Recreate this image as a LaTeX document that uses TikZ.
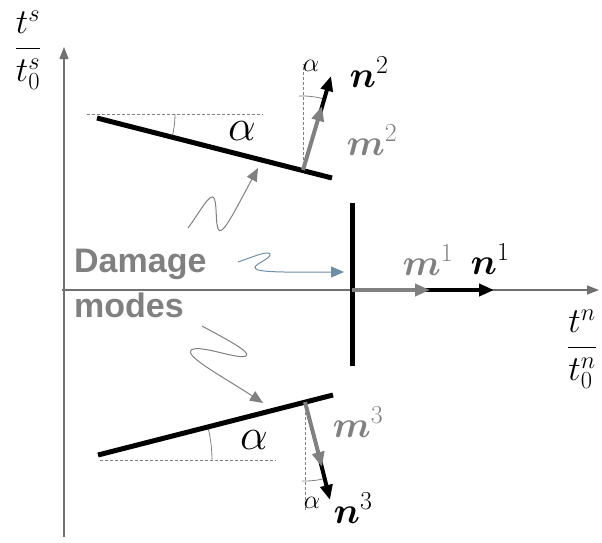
\RequirePackage{fix-cm}
\documentclass[tikz,border=0pt]{standalone}
\usepackage{amsmath,bm}
\usepackage{fontspec}
\setsansfont{Liberation Sans}
\usetikzlibrary{arrows.meta}
\definecolor{axisgray}{RGB}{112,112,112}
\definecolor{midgray}{RGB}{128,128,128}
\definecolor{squigblue}{RGB}{108,142,168}
\begin{document}
\begin{tikzpicture}[x=1pt,y=-1pt,
  axis/.style={axisgray, line width=1.4pt, -{Triangle[length=12pt,width=9pt]}},
  crack/.style={black, line width=5pt},
  mvec/.style={midgray, line width=4pt, -{Triangle[length=15pt,width=12pt]}},
  nvec/.style={black, line width=4pt, -{Triangle[length=15pt,width=12pt]}},
  refdash/.style={gray, line width=0.6pt, dash pattern=on 3pt off 2pt},
  anglearc/.style={gray, line width=0.8pt},
  squig/.style={midgray, line width=1pt, -{Triangle[length=13pt,width=11pt]}},
  bsquig/.style={squigblue, line width=1pt, -{Triangle[length=13pt,width=11pt]}},
  frac/.style={font=\fontsize{35}{42}\selectfont, inner sep=0pt},
  veclab/.style={font=\fontsize{37}{44}\selectfont, inner sep=0pt},
  bigalpha/.style={font=\fontsize{44}{52}\selectfont, inner sep=0pt},
  smallalpha/.style={font=\fontsize{26}{30}\selectfont, inner sep=0pt},
  dmlabel/.style={font=\sffamily\bfseries\fontsize{34}{45}\selectfont, text=midgray, align=left, inner sep=0pt}]
\useasboundingbox (0,0) rectangle (602,542);

% axes
\coordinate (vb) at (64,537);
\coordinate (vt) at (64,47);
\coordinate (hl) at (62,290);
\coordinate (hr) at (599,290);
\draw[axis] (vb) -- (vt);
\draw[axis] (hl) -- (hr);
\node[frac] (ts) at (28,50) {$\dfrac{t^s}{t^s_0}$};
\node[frac, anchor=west] (tn) at (567,349) {$\dfrac{t^n}{t^n_0}$};

% crack 2 (top)
\coordinate (c2a) at (97,118);
\coordinate (c2b) at (332,178);
\coordinate (d2a) at (87,114);
\coordinate (d2b) at (263,114);
\draw[refdash] (d2a) -- (d2b);
\draw[anglearc] (81,114) ++(0:94) arc[start angle=0, end angle=14.3, radius=94];
\draw[crack] (c2a) -- (c2b);
\node[bigalpha] (a2) at (242,131) {$\alpha$};
\coordinate (b2) at (303,170);
\coordinate (v2) at (303,64);
\coordinate (g2) at (322,106);
\coordinate (s2) at (319,117);
\coordinate (t2) at (331,76);
\draw[refdash] (b2) -- (v2);
\draw[anglearc] (b2) ++(-93:74) arc[start angle=-93, end angle=-73, radius=74];
\draw[nvec] (s2) -- (t2);
\draw[mvec] (b2) -- (g2);
\node[smallalpha] (sa2) at (311,66) {$\alpha$};
\node[veclab] (n2) at (369,72) {$\bm{n}^2$};
\node[veclab, text=midgray] (m2) at (372,140) {$\bm{m}^2$};

% crack 1 (middle)
\coordinate (c1a) at (352,203);
\coordinate (c1b) at (352,366);
\draw[crack] (c1a) -- (c1b);
\coordinate (b1) at (352,290);
\coordinate (g1) at (430,290);
\coordinate (s1) at (418,290);
\coordinate (t1) at (494,290);
\draw[nvec] (s1) -- (t1);
\draw[mvec] (b1) -- (g1);
\node[veclab, text=midgray] (m1) at (428,260) {$\bm{m}^1$};
\node[veclab] (n1) at (490,259) {$\bm{n}^1$};

% crack 3 (bottom)
\coordinate (c3a) at (98,455);
\coordinate (c3b) at (333,395);
\coordinate (d3a) at (100,460);
\coordinate (d3b) at (276,460);
\draw[refdash] (d3a) -- (d3b);
\draw[anglearc] (78,460) ++(0:134) arc[start angle=0, end angle=-14.3, radius=134];
\draw[crack] (c3a) -- (c3b);
\node[bigalpha] (a3) at (254,440) {$\alpha$};
\coordinate (b3) at (305,402);
\coordinate (v3) at (305,512);
\coordinate (g3) at (322,467);
\coordinate (s3) at (319,456);
\coordinate (t3) at (330,500);
\draw[refdash] (b3) -- (v3);
\draw[anglearc] (b3) ++(92:79) arc[start angle=92, end angle=74, radius=79];
\draw[nvec] (s3) -- (t3);
\draw[mvec] (b3) -- (g3);
\node[smallalpha] (sa3) at (312,503) {$\alpha$};
\node[veclab, text=midgray] (m3) at (358,422) {$\bm{m}^3$};
\node[veclab] (n3) at (353,508) {$\bm{n}^3$};

% damage modes label
\node[dmlabel, anchor=north west] (dm) at (74,249) {Damage\\modes};

% squiggles
\coordinate (q1s) at (188,228);
\coordinate (q1e) at (258,168);
\draw[squig] (q1s) .. controls (200,212) and (210,192) .. (214,198)
  .. controls (218,205) and (214,236) .. (222,230)
  .. controls (228,225) and (238,205) .. (q1e);
\coordinate (q2s) at (238,262);
\coordinate (q2e) at (344,272);
\draw[bsquig] (q2s) .. controls (250,258) and (268,250) .. (270,254)
  .. controls (272,259) and (250,265) .. (256,269)
  .. controls (262,273) and (300,272) .. (q2e);
\coordinate (q3s) at (202,326);
\coordinate (q3e) at (263,403);
\draw[squig] (q3s) .. controls (222,337) and (252,352) .. (246,356)
  .. controls (238,360) and (200,344) .. (191,350)
  .. controls (184,356) and (225,378) .. (q3e);
\end{tikzpicture}
\end{document}
